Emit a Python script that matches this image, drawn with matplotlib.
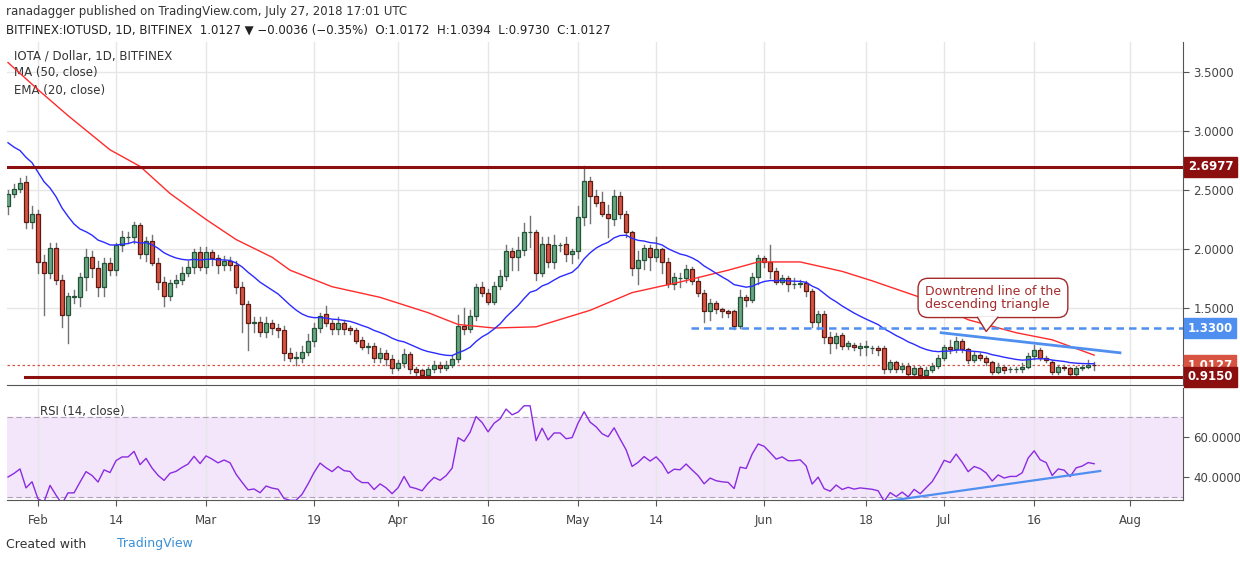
import numpy as np
import pandas as pd
import matplotlib.pyplot as plt
from matplotlib.patches import Rectangle, Polygon

# daily candles, Jan 27 .. Jul 27 2018
opens = [2.36, 2.47, 2.51, 2.57, 2.23, 2.30, 1.89, 1.80, 2.01, 1.74, 1.44, 1.59, 1.59, 1.76, 1.93, 1.84,
         1.68, 1.88, 1.82, 2.03, 2.10, 2.10, 2.20, 1.96, 2.07, 1.88, 1.72, 1.60, 1.71, 1.74, 1.80, 1.85,
         1.97, 1.85, 1.97, 1.92, 1.86, 1.90, 1.86, 1.68, 1.53, 1.37, 1.38, 1.30, 1.37, 1.33, 1.31,
         1.12, 1.08, 1.08, 1.13, 1.22, 1.33, 1.45, 1.37, 1.32, 1.37, 1.33, 1.31, 1.23, 1.17, 1.18, 1.08,
         1.12, 1.07, 0.99, 1.03, 1.11, 0.98, 0.97, 0.93, 0.98, 1.02, 0.99, 1.02, 1.07, 1.35, 1.32, 1.43,
         1.68, 1.63, 1.55, 1.69, 1.77, 1.98, 1.93, 1.99, 2.14, 2.14, 1.80, 2.04, 1.89, 2.03, 2.04, 1.96,
         1.98, 2.27,
         2.58, 2.45, 2.40, 2.30, 2.25, 2.45, 2.30, 2.14, 1.84, 1.91, 2.01, 1.93, 2.00, 1.89, 1.70, 1.75,
         1.75, 1.83, 1.73, 1.63, 1.47, 1.54, 1.49, 1.47, 1.47, 1.35, 1.59, 1.57, 1.76, 1.92, 1.89, 1.81,
         1.72, 1.75, 1.70, 1.70, 1.71, 1.64, 1.38, 1.45, 1.25, 1.20, 1.27, 1.18, 1.19, 1.16, 1.17, 1.16,
         1.16,
         1.16, 0.98, 1.04, 0.98, 1.01, 0.94, 0.99, 0.93, 0.97, 1.01, 1.08, 1.17, 1.15, 1.22, 1.15, 1.06,
         1.10, 1.08, 1.04, 0.96, 1.00, 0.98, 0.98, 0.98, 1.00, 1.09, 1.14, 1.08, 1.04, 0.96, 1.00, 0.99,
         0.94, 0.99, 1.00, 1.0172]
closes = [2.47, 2.51, 2.56, 2.23, 2.30, 1.89, 1.80, 2.01, 1.74, 1.44, 1.60, 1.60, 1.76, 1.93, 1.84, 1.68,
          1.88, 1.82, 2.03, 2.10, 2.10, 2.20, 1.96, 2.07, 1.88, 1.72, 1.60, 1.71, 1.74, 1.80, 1.85, 1.97,
          1.85, 1.97, 1.92, 1.86, 1.90, 1.86, 1.68, 1.53, 1.37, 1.38, 1.30, 1.37, 1.33, 1.31, 1.12,
          1.08, 1.08, 1.13, 1.22, 1.33, 1.43, 1.37, 1.32, 1.37, 1.32, 1.31, 1.22, 1.17, 1.17, 1.08, 1.12,
          1.07, 0.99, 1.03, 1.11, 0.98, 0.96, 0.93, 0.98, 1.02, 0.99, 1.02, 1.07, 1.35, 1.32, 1.43, 1.68,
          1.63, 1.55, 1.69, 1.77, 1.98, 1.93, 1.99, 2.14, 2.14, 1.80, 2.04, 1.89, 2.03, 2.03, 1.96, 1.98,
          2.27, 2.58,
          2.45, 2.39, 2.30, 2.26, 2.45, 2.30, 2.14, 1.84, 1.91, 2.01, 1.93, 2.00, 1.89, 1.70, 1.76, 1.75,
          1.83, 1.73, 1.63, 1.47, 1.54, 1.49, 1.47, 1.46, 1.35, 1.59, 1.57, 1.76, 1.92, 1.89, 1.81, 1.72,
          1.75, 1.70, 1.70, 1.71, 1.64, 1.38, 1.45, 1.25, 1.20, 1.26, 1.18, 1.20, 1.17, 1.18, 1.17, 1.16,
          1.14,
          0.98, 1.04, 0.98, 1.01, 0.94, 0.99, 0.93, 0.97, 1.01, 1.08, 1.17, 1.15, 1.22, 1.15, 1.06, 1.10,
          1.08, 1.04, 0.96, 1.00, 0.97, 0.98, 0.98, 1.00, 1.09, 1.14, 1.08, 1.06, 0.96, 1.00, 0.99, 0.94,
          0.99, 1.00, 1.02, 1.0127]
highs = [2.50, 2.55, 2.60, 2.62, 2.36, 2.33, 1.95, 2.05, 2.05, 1.78, 1.63, 1.65, 1.80, 2.00, 1.98, 1.90,
         1.92, 1.92, 2.05, 2.15, 2.14, 2.23, 2.22, 2.10, 2.12, 1.92, 1.76, 1.74, 1.78, 1.85, 1.90, 2.00,
         2.02, 2.02, 1.99, 1.95, 1.94, 1.93, 1.90, 1.72, 1.56, 1.42, 1.42, 1.42, 1.40, 1.36, 1.35,
         1.16, 1.13, 1.18, 1.28, 1.37, 1.46, 1.52, 1.40, 1.42, 1.40, 1.35, 1.33, 1.25, 1.20, 1.20, 1.16,
         1.14, 1.10, 1.06, 1.15, 1.13, 1.00, 0.98, 1.00, 1.05, 1.04, 1.05, 1.10, 1.44, 1.50, 1.48, 1.70,
         1.72, 1.66, 1.72, 1.82, 2.03, 2.01, 2.10, 2.22, 2.28, 2.16, 2.10, 2.10, 2.12, 2.05, 2.10, 2.00,
         2.36, 2.70,
         2.61, 2.50, 2.48, 2.37, 2.50, 2.48, 2.32, 2.15, 1.98, 2.03, 2.03, 2.10, 2.01, 1.92, 1.80, 1.80,
         1.86, 1.85, 1.76, 1.65, 1.58, 1.56, 1.50, 1.48, 1.48, 1.65, 1.61, 1.80, 1.95, 1.94, 2.03, 1.84,
         1.78, 1.77, 1.75, 1.74, 1.73, 1.66, 1.47, 1.47, 1.30, 1.29, 1.29, 1.22, 1.20, 1.20, 1.22, 1.18,
         1.18,
         1.18, 1.06, 1.05, 1.03, 1.03, 1.01, 1.01, 1.00, 1.03, 1.10, 1.19, 1.23, 1.25, 1.24, 1.16, 1.13,
         1.12, 1.09, 1.05, 1.03, 1.02, 1.00, 1.00, 1.03, 1.12, 1.19, 1.16, 1.09, 1.06, 1.02, 1.02, 1.00,
         1.01, 1.02, 1.06, 1.0394]
lows = [2.30, 2.44, 2.48, 2.18, 2.18, 1.80, 1.44, 1.75, 1.70, 1.34, 1.20, 1.54, 1.52, 1.65, 1.76, 1.60,
        1.60, 1.78, 1.78, 1.98, 2.05, 2.05, 1.92, 1.90, 1.86, 1.66, 1.52, 1.57, 1.68, 1.70, 1.77, 1.80,
        1.82, 1.80, 1.86, 1.80, 1.82, 1.82, 1.63, 1.30, 1.14, 1.30, 1.26, 1.25, 1.28, 1.25, 1.06,
        1.05, 1.02, 1.04, 1.10, 1.18, 1.30, 1.35, 1.28, 1.28, 1.28, 1.28, 1.20, 1.15, 1.12, 1.04, 1.04,
        1.02, 0.95, 0.97, 1.00, 0.95, 0.92, 0.92, 0.91, 0.96, 0.96, 0.97, 1.00, 1.04, 1.28, 1.30, 1.40,
        1.60, 1.53, 1.53, 1.66, 1.74, 1.82, 1.82, 1.95, 2.02, 1.74, 1.77, 1.85, 1.84, 1.98, 1.90, 1.88,
        1.92, 2.20,
        2.22, 2.36, 2.28, 2.10, 2.20, 2.26, 2.10, 1.78, 1.70, 1.83, 1.82, 1.90, 1.80, 1.68, 1.66, 1.68,
        1.72, 1.70, 1.60, 1.38, 1.40, 1.46, 1.42, 1.42, 1.32, 1.33, 1.52, 1.55, 1.70, 1.85, 1.75, 1.70,
        1.70, 1.64, 1.67, 1.68, 1.60, 1.34, 1.32, 1.20, 1.12, 1.16, 1.15, 1.15, 1.14, 1.10, 1.10, 1.12,
        1.10,
        0.95, 0.96, 0.96, 0.96, 0.92, 0.92, 0.91, 0.92, 0.96, 0.99, 1.06, 1.12, 1.13, 1.13, 1.03, 1.04,
        1.06, 1.02, 0.94, 0.95, 0.95, 0.96, 0.96, 0.96, 0.99, 1.07, 1.06, 1.04, 0.94, 0.94, 0.97, 0.93,
        0.92, 0.97, 0.99, 0.973]

# MA(50) at a few days (day index, value)
ma50_days = [0, 5, 10, 17, 22, 27, 33, 38, 44, 47, 54, 62, 70, 75, 81, 88, 97, 104, 112, 120, 125,
             132, 139, 144, 152, 160, 168, 174, 181]
ma50_vals = [3.58, 3.35, 3.13, 2.84, 2.70, 2.47, 2.25, 2.08, 1.93, 1.82, 1.68, 1.59, 1.46, 1.36, 1.33,
             1.34, 1.48, 1.63, 1.72, 1.82, 1.89, 1.89, 1.81, 1.73, 1.59, 1.40, 1.29, 1.23, 1.10]
ema20_start = 2.90
rsi_seed_gain, rsi_seed_loss = 0.040, 0.060  # gives RSI 40 at the left edge

price_ticks = [1.5, 2.0, 2.5, 3.0, 3.5]
tick_days = [5, 18, 33, 51, 65, 80, 95, 108, 126, 143, 156, 171, 187]
tick_labels = ['Feb', '14', 'Mar', '19', 'Apr', '16', 'May', '14', 'Jun', '18', 'Jul', '16', 'Aug']

n = len(closes)
days = np.arange(n)

# EMA 20 seeded with the value at the left edge
ema = [ema20_start]
k = 2 / 21
for c in closes[1:]:
    ema.append(ema[-1] + k * (c - ema[-1]))

# RSI 14 (Wilder), seeded
g, lo = rsi_seed_gain, rsi_seed_loss
rsi = [100 - 100 / (1 + g / lo)]
for i in range(1, n):
    ch = closes[i] - closes[i - 1]
    g = (g * 13 + max(ch, 0)) / 14
    lo = (lo * 13 + max(-ch, 0)) / 14
    rsi.append(100 - 100 / (1 + g / lo))

fig = plt.figure(figsize=(12.4, 5.62), dpi=100)
fig.patch.set_facecolor('white')
L, R = 7/1240, 1183/1240
ax = fig.add_axes([L, 1 - 385/562, R - L, 343/562])
ax2 = fig.add_axes([L, 1 - 500/562, R - L, 112/562], sharex=ax)

up_fill, up_edge = '#6ba583', '#225437'
dn_fill, dn_edge = '#d75442', '#5b1a13'
for i in range(n):
    o, h, l, c = opens[i], highs[i], lows[i], closes[i]
    ax.plot([i, i], [l, h], color='#737375', lw=1, zorder=2)
    fc, ec = (up_fill, up_edge) if c >= o else (dn_fill, dn_edge)
    ax.add_patch(Rectangle((i - 0.35, min(o, c)), 0.7, max(abs(c - o), 0.004),
                           facecolor=fc, edgecolor=ec, lw=0.9, zorder=3))

ax.plot(ma50_days, ma50_vals, color='#ff2b2b', lw=1, zorder=4)
ax.plot(days, ema, color='#2b2bff', lw=1, zorder=4)

ax.axhline(2.6977, color='#8b0f0f', lw=2.2, zorder=5)
ax.plot([2.9, 200], [0.915, 0.915], color='#8b0f0f', lw=2.2, zorder=5)
ax.plot([113.8, 200], [1.33, 1.33], color='#4f8ff0', lw=1.8, ls=(0, (3, 2)), zorder=5)
ax.axhline(1.0127, color='#d75442', lw=0.9, ls=(0, (2, 2)), zorder=1)
ax.plot([155.5, 185.3], [1.29, 1.12], color='#4f8ff0', lw=2, zorder=6)

# callout
ax.text(152.8, 1.585, 'Downtrend line of the\ndescending triangle', color='#a52a2a', fontsize=9,
        va='center', ha='left', linespacing=0.95, zorder=7,
        bbox=dict(boxstyle='round,pad=0.55,rounding_size=0.8', facecolor='white', edgecolor='#a52a2a', lw=1))
ax.add_patch(Polygon([[161.5, 1.425], [163.0, 1.30], [165.0, 1.425]], closed=False,
                     facecolor='white', edgecolor='#a52a2a', lw=1, zorder=8))

ax.set_xlim(-0.17, 195.8)
ax.set_ylim(0.847, 3.754)
ax.yaxis.tick_right()
ax.set_yticks(price_ticks)
ax.set_yticklabels([f'{v:.4f}' for v in price_ticks])
ax.tick_params(axis='y', colors='#555555', labelsize=8.5, length=4, labelcolor='#444444')
ax.tick_params(axis='x', length=0, labelbottom=False)
ax.set_xticks(tick_days)
ax.grid(True, color='#e6e6e6', lw=1)
ax.set_axisbelow(True)
for s in ['top', 'left']:
    ax.spines[s].set_visible(False)
ax.spines['right'].set_color('#555555')
ax.spines['bottom'].set_color('#555555')

lab = [(2.6977, '#8b0f0f'), (1.3300, '#4f8ff0'), (1.0127, '#d75442'), (0.9150, '#8b0f0f')]
for v, col in lab:
    ax.text(1.004, v, f'{v:.4f}', transform=ax.get_yaxis_transform(), color='white', fontsize=8.5,
            fontweight='bold', va='center', ha='left',
            bbox=dict(boxstyle='square,pad=0.3', facecolor=col, edgecolor=col))

ax.text(0.006, 0.96, 'IOTA / Dollar, 1D, BITFINEX', transform=ax.transAxes, fontsize=8.5, color='#333333', va='center')
ax.text(0.006, 0.91, 'MA (50, close)', transform=ax.transAxes, fontsize=8.5, color='#333333', va='center')
ax.text(0.006, 0.86, 'EMA (20, close)', transform=ax.transAxes, fontsize=8.5, color='#333333', va='center')

# RSI panel
ax2.axhspan(30, 70, color='#f3e5fa', zorder=0)
ax2.axhline(70, color='#b0a0b8', lw=0.8, ls=(0, (5, 3)))
ax2.axhline(30, color='#b0a0b8', lw=0.8, ls=(0, (5, 3)))
ax2.plot(days, rsi, color='#8a2be2', lw=1, zorder=3)
ax2.plot([145.5, 182], [27.5, 43], color='#4f8ff0', lw=1.6, zorder=4)
ax2.set_ylim(28.5, 84.5)
ax2.yaxis.tick_right()
ax2.set_yticks([40, 60])
ax2.set_yticklabels(['40.0000', '60.0000'])
ax2.tick_params(axis='y', colors='#555555', labelsize=8.5, length=4, labelcolor='#444444')
ax2.set_xticks(tick_days)
ax2.set_xticklabels(tick_labels)
ax2.tick_params(axis='x', length=4, colors='#555555', labelsize=8.5, labelcolor='#444444', pad=6)
ax2.grid(True, axis='x', color='#e6e6e6', lw=1)
ax2.set_axisbelow(True)
for s in ['top', 'left']:
    ax2.spines[s].set_visible(False)
ax2.spines['right'].set_color('#555555')
ax2.spines['bottom'].set_color('#555555')
ax2.text(0.028, 0.79, 'RSI (14, close)', transform=ax2.transAxes, fontsize=8.5, color='#333333', va='center')

fig.text(6/1240, 1 - 11/562, 'ranadagger published on TradingView.com, July 27, 2018 17:01 UTC',
         fontsize=8.5, color='#333333', va='center')
fig.text(6/1240, 1 - 30/562,
         'BITFINEX:IOTUSD, 1D, BITFINEX  1.0127 \u25bc \u22120.0036 (\u22120.35%)  O:1.0172  H:1.0394  L:0.9730  C:1.0127',
         fontsize=8.5, color='#222222', va='center')
fig.text(6/1240, 1 - 544/562, 'Created with', fontsize=9, color='#333333', va='center')
fig.text(117/1240, 1 - 544/562, 'TradingView', fontsize=9, color='#3b8fd8', va='center')

fig.savefig('out.png', dpi=100)
